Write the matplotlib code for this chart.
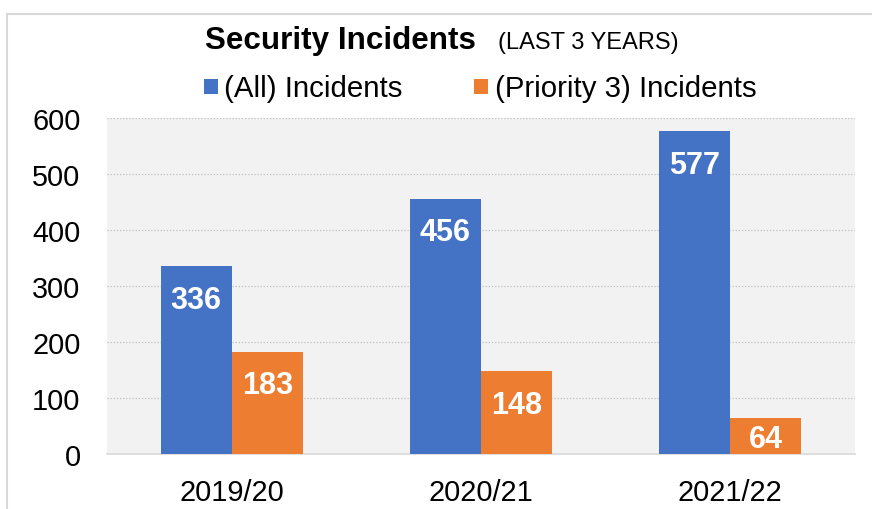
import matplotlib
matplotlib.use("Agg")
import matplotlib.pyplot as plt
import numpy as np
from matplotlib.lines import Line2D
from matplotlib.patches import Rectangle

categories = ["2019/20", "2020/21", "2021/22"]
all_incidents = [336, 456, 577]
p3_incidents = [183, 148, 64]
series_names = ["(All) Incidents", "(Priority 3) Incidents"]
yticks = [0, 100, 200, 300, 400, 500, 600]

BLUE = "#4472c4"
ORANGE = "#ed7d31"
FONT = "Liberation Sans"
plt.rcParams["font.family"] = [FONT, "DejaVu Sans"]

W, H = 872, 510
fig = plt.figure(figsize=(W / 100, H / 100), dpi=100)
fig.patch.set_facecolor("white")

def fx(px):
    return px / W

def fy(py):
    return 1 - py / H

ax = fig.add_axes([fx(107), fy(455), fx(855) - fx(107), fy(119) - fy(455)])
ax.set_facecolor("#f2f2f2")

x = np.arange(len(categories))
bw = 0.285
b1 = ax.bar(x - bw / 2, all_incidents, bw, color=BLUE, zorder=3)
b2 = ax.bar(x + bw / 2, p3_incidents, bw, color=ORANGE, zorder=3)

ax.set_xlim(-0.5, len(categories) - 0.5)
ax.set_ylim(0, 600)
ax.set_yticks(yticks)
ax.set_yticklabels([str(v) for v in yticks])
ax.set_xticks(x)
ax.set_xticklabels(categories)
ax.tick_params(axis="both", length=0, labelsize=20.8, colors="black")
ax.tick_params(axis="y", pad=19)
ax.tick_params(axis="x", pad=17)

ax.yaxis.grid(True, linestyle=(0, (1, 1.5)), color="#bfbfbf", linewidth=0.9, zorder=0)
ax.set_axisbelow(True)
for s in ["top", "right", "left"]:
    ax.spines[s].set_visible(False)
ax.spines["bottom"].set_color("#d9d9d9")
ax.spines["bottom"].set_linewidth(1.2)

# data labels inside bars
d = 55
for bars, vals in ((b1, all_incidents), (b2, p3_incidents)):
    for rect, v in zip(bars, vals):
        yc = max(v - d, v / 2)
        ax.annotate(str(v), (rect.get_x() + rect.get_width() / 2, yc),
                    xytext=(0, -3), textcoords="offset pixels",
                    ha="center", va="center",
                    color="white", fontsize=22, fontweight="bold", zorder=4)

# title
fig.text(fx(205), fy(49), "Security Incidents", fontsize=22.6, fontweight="bold",
         ha="left", va="baseline")
fig.text(fx(498), fy(49), "(LAST 3 YEARS)", fontsize=17, ha="left", va="baseline")

# legend
legend_y = 97
for (sx, tx, name, col) in ((204, 224, series_names[0], BLUE), (474, 495, series_names[1], ORANGE)):
    fig.add_artist(Rectangle((fx(sx), fy(95)), fx(14), fy(80) - fy(95), transform=fig.transFigure,
                             facecolor=col, edgecolor="none"))
    fig.text(fx(tx), fy(legend_y), name, fontsize=21.2, ha="left", va="baseline")

# outer chart border (cropped)
fig.add_artist(Line2D([fx(7), 1], [fy(15), fy(15)], transform=fig.transFigure, color="#d9d9d9", lw=1.5))
fig.add_artist(Line2D([fx(7), fx(7)], [0, fy(15)], transform=fig.transFigure, color="#d9d9d9", lw=1.5))

fig.savefig("out.png", dpi=100)
